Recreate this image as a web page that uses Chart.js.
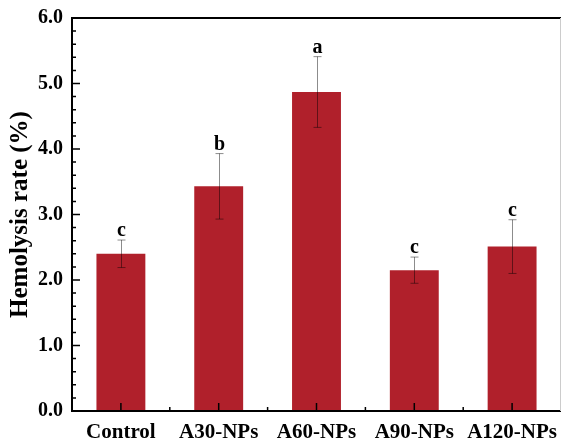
<!DOCTYPE html>
<html>
<head>
<meta charset="utf-8">
<script src="https://cdn.jsdelivr.net/npm/chart.js@4/dist/chart.umd.min.js"></script>
<style>
html,body{margin:0;padding:0;background:#fff;}
#wrap{width:561px;height:438px;position:relative;}
</style>
</head>
<body>
<div id="wrap"><canvas id="c"></canvas></div>
<script>
const categories = ["Control", "A30-NPs", "A60-NPs", "A90-NPs", "A120-NPs"];
const values = [2.40, 3.43, 4.87, 2.15, 2.51];
const errors = [0.21, 0.50, 0.54, 0.20, 0.41];
const letters = ["c", "b", "a", "c", "c"];
const yTicks = [0, 1, 2, 3, 4, 5, 6];

const FONT = "'Liberation Serif','Times New Roman',serif";

const decor = {
  id: 'decor',
  afterDatasetsDraw(chart) {
    const ctx = chart.ctx;
    const ca = chart.chartArea;
    const xs = chart.scales.x, ys = chart.scales.y;
    // error bars
    ctx.save();
    ctx.strokeStyle = 'rgba(0,0,0,0.45)';
    ctx.lineWidth = 1;
    values.forEach((v, i) => {
      const x = Math.round(xs.getPixelForValue(i)) + 0.5;
      const yt = ys.getPixelForValue(v + errors[i]);
      const yb = ys.getPixelForValue(v - errors[i]);
      ctx.beginPath();
      ctx.moveTo(x, yt); ctx.lineTo(x, yb);
      ctx.moveTo(x - 4, yt); ctx.lineTo(x + 4, yt);
      ctx.moveTo(x - 4, yb); ctx.lineTo(x + 4, yb);
      ctx.stroke();
      // letter
      ctx.fillStyle = '#000';
      ctx.font = "bold 20px " + FONT;
      ctx.textAlign = 'center';
      ctx.textBaseline = 'alphabetic';
      ctx.fillText(letters[i], x, yt - 4);
    });
    ctx.restore();
    // frame
    ctx.save();
    ctx.strokeStyle = '#000';
    ctx.lineWidth = 2;
    ctx.beginPath();
    ctx.moveTo(ca.left, ca.top); ctx.lineTo(ca.right, ca.top);
    ctx.moveTo(ca.left, ca.top - 1); ctx.lineTo(ca.left, ca.bottom + 1);
    ctx.moveTo(ca.left - 1, ca.bottom); ctx.lineTo(ca.right, ca.bottom);
    ctx.stroke();
    ctx.strokeStyle = '#ccc';
    ctx.lineWidth = 1;
    ctx.beginPath();
    ctx.moveTo(ca.right - 0.5, ca.top); ctx.lineTo(ca.right - 0.5, ca.bottom);
    ctx.stroke();
    // y ticks inward
    ctx.strokeStyle = '#000';
    ctx.lineWidth = 1.5;
    ctx.beginPath();
    for (let t = 0; t <= 30; t++) {
      const v = t / 5;
      const y = ys.getPixelForValue(v);
      const len = (t % 5 === 0) ? 8 : 4;
      ctx.moveTo(ca.left, y); ctx.lineTo(ca.left + len, y);
    }
    // x ticks inward
    for (let i = 0; i < categories.length; i++) {
      const x = xs.getPixelForValue(i);
      ctx.moveTo(x, ca.bottom); ctx.lineTo(x, ca.bottom - 8);
      if (i > 0) {
        const xm = (xs.getPixelForValue(i - 1) + x) / 2;
        ctx.moveTo(xm, ca.bottom); ctx.lineTo(xm, ca.bottom - 4);
      }
    }
    ctx.stroke();
    ctx.restore();
  }
};

new Chart(document.getElementById('c'), {
  type: 'bar',
  data: {
    labels: categories,
    datasets: [{
      data: values,
      backgroundColor: '#B0202B',
      borderWidth: 0,
      barPercentage: 0.5,
      categoryPercentage: 1.0
    }]
  },
  options: {
    responsive: true,
    maintainAspectRatio: false,
    animation: false,
    layout: { padding: { top: 18, right: 0, left: 0, bottom: 0 } },
    plugins: { legend: { display: false }, tooltip: { enabled: false } },
    scales: {
      x: {
        grid: { display: false, drawTicks: false },
        border: { display: false },
        ticks: { color: '#000', font: { family: FONT, size: 21, weight: 'bold' }, padding: 9, maxRotation: 0 },
        afterFit(s) { s.height = 27; s.paddingLeft = 0; s.paddingRight = 0; }
      },
      y: {
        min: 0, max: 6,
        afterBuildTicks(s) { s.ticks = yTicks.map(v => ({ value: v })); },
        grid: { display: false, drawTicks: false },
        border: { display: false },
        ticks: {
          color: '#000', font: { family: FONT, size: 20, weight: 'bold' }, padding: 9,
          callback: v => Number(v).toFixed(1)
        },
        title: {
          display: true, text: 'Hemolysis rate (%)', color: '#000',
          font: { family: FONT, size: 25, weight: 'bold' }, padding: { top: 6, bottom: 2 }
        },
        afterFit(s) { s.width = 72; s.paddingTop = 0; s.paddingBottom = 0; }
      }
    }
  },
  plugins: [decor]
});
</script>
</body>
</html>
